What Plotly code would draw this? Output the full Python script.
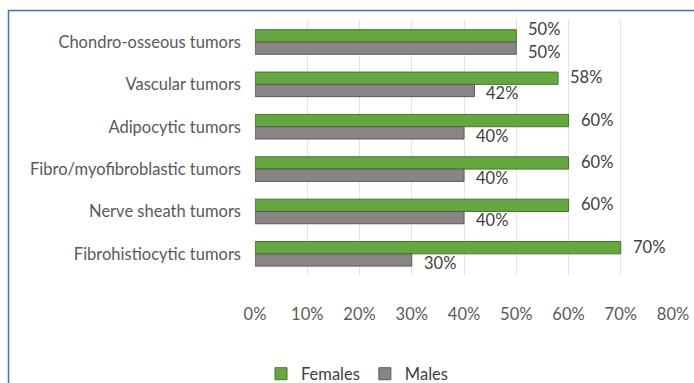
import plotly.graph_objects as go

categories = ["Chondro-osseous tumors", "Vascular tumors", "Adipocytic tumors",
              "Fibro/myofibroblastic tumors", "Nerve sheath tumors", "Fibrohistiocytic tumors"]
females = [0.50, 0.58, 0.60, 0.60, 0.60, 0.70]
males = [0.50, 0.42, 0.40, 0.40, 0.40, 0.30]
x_ticks = [0, 0.1, 0.2, 0.3, 0.4, 0.5, 0.6, 0.7, 0.8]

W, H = 694, 383
L, R, T, B = 255, 21, 20, 108
FONT = "Lato"
FS = 16.5

fig = go.Figure()
fig.add_trace(go.Bar(
    y=categories, x=females, orientation="h", name="Females",
    marker=dict(color="#64a83f", line=dict(color="#3e7a26", width=1)),
))
fig.add_trace(go.Bar(
    y=categories, x=males, orientation="h", name="Males",
    marker=dict(color="#8a8484", line=dict(color="#5e5858", width=1)),
))

annotations = []
for cat, f, m in zip(categories, females, males):
    close = abs(f - m) < 0.05
    annotations.append(dict(x=f, y=cat, xref="x", yref="y", text="{:.0%}".format(f),
                            showarrow=False, xanchor="left", xshift=10,
                            yshift=13 if close else 7,
                            font=dict(family=FONT, size=FS, color="#404040")))
    annotations.append(dict(x=m, y=cat, xref="x", yref="y", text="{:.0%}".format(m),
                            showarrow=False, xanchor="left", xshift=10,
                            yshift=-10 if close else -9,
                            font=dict(family=FONT, size=FS, color="#404040")))

pw, ph = W - L - R, H - T - B
def px_x(p):
    return (p - L) / pw
def px_y(p):
    return (H - B - p) / ph

fig.update_layout(
    width=W, height=H,
    margin=dict(l=L, r=R, t=T, b=B, autoexpand=False),
    paper_bgcolor="white", plot_bgcolor="white",
    barmode="group", bargap=0.42, bargroupgap=0.0,
    showlegend=True,
    legend=dict(orientation="h", x=px_x(357), y=px_y(374), xanchor="center", yanchor="middle",
                font=dict(family=FONT, size=FS, color="#404040"), itemwidth=30,
                tracegroupgap=0),
    xaxis=dict(range=[0, 0.8], tickvals=x_ticks, tickformat=".0%",
               showgrid=True, gridcolor="#e3e3e3", gridwidth=1, zeroline=False,
               showline=False, ticks="", ticklabelstandoff=27,
               tickfont=dict(family=FONT, size=FS, color="#595959"), fixedrange=True),
    yaxis=dict(autorange="reversed", showgrid=False, showline=False, ticks="",
               ticklabelstandoff=13,
               tickfont=dict(family=FONT, size=FS, color="#595959")),
    annotations=annotations,
    shapes=[dict(type="rect", xref="paper", yref="paper",
                 x0=px_x(8.5), x1=px_x(W + 10), y0=px_y(H + 10), y1=px_y(10.5),
                 line=dict(color="#4472c4", width=1.5), layer="below")],
)

fig.write_html("out.html")
